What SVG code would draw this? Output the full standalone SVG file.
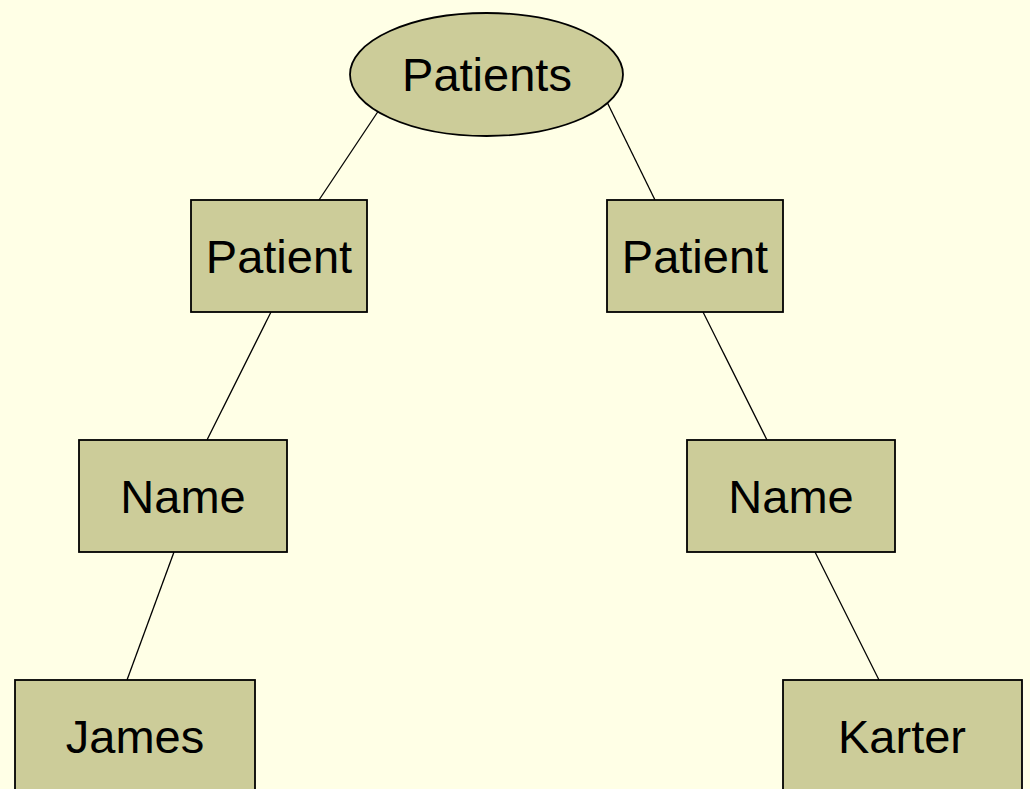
<svg xmlns="http://www.w3.org/2000/svg" width="1030" height="789" viewBox="0 0 1030 789">
<style>
.n{fill:#CCCC99;stroke:#000;stroke-width:1.8}
.t{font-family:"Liberation Sans",Arial,sans-serif;font-size:47px;fill:#000;text-anchor:middle}
.c line{stroke:#000;stroke-width:1.3}
</style>
<rect width="1030" height="789" fill="#FFFFE6"/>
<g class="c">
<line x1="383" y1="104" x2="319" y2="200"/>
<line x1="607" y1="102" x2="655" y2="200"/>
<line x1="271" y1="312" x2="207" y2="440"/>
<line x1="703" y1="312" x2="767" y2="440"/>
<line x1="174" y1="552" x2="127" y2="680"/>
<line x1="815" y1="552" x2="879" y2="680"/>
</g>
<g id="patients"><ellipse class="n" cx="486.5" cy="74.5" rx="136.5" ry="61.5"/><text class="t" x="487" y="91">Patients</text></g>
<g id="patient1"><rect class="n" x="191" y="200" width="176" height="112"/><text class="t" x="279" y="273">Patient</text></g>
<g id="patient2"><rect class="n" x="607" y="200" width="176" height="112"/><text class="t" x="695" y="273">Patient</text></g>
<g id="name1"><rect class="n" x="79" y="440" width="208" height="112"/><text class="t" x="183" y="513">Name</text></g>
<g id="name2"><rect class="n" x="687" y="440" width="208" height="112"/><text class="t" x="791" y="513">Name</text></g>
<g id="james"><rect class="n" x="15" y="680" width="240" height="120"/><text class="t" x="135" y="753">James</text></g>
<g id="karter"><rect class="n" x="783" y="680" width="239" height="120"/><text class="t" x="902" y="753">Karter</text></g>
</svg>
